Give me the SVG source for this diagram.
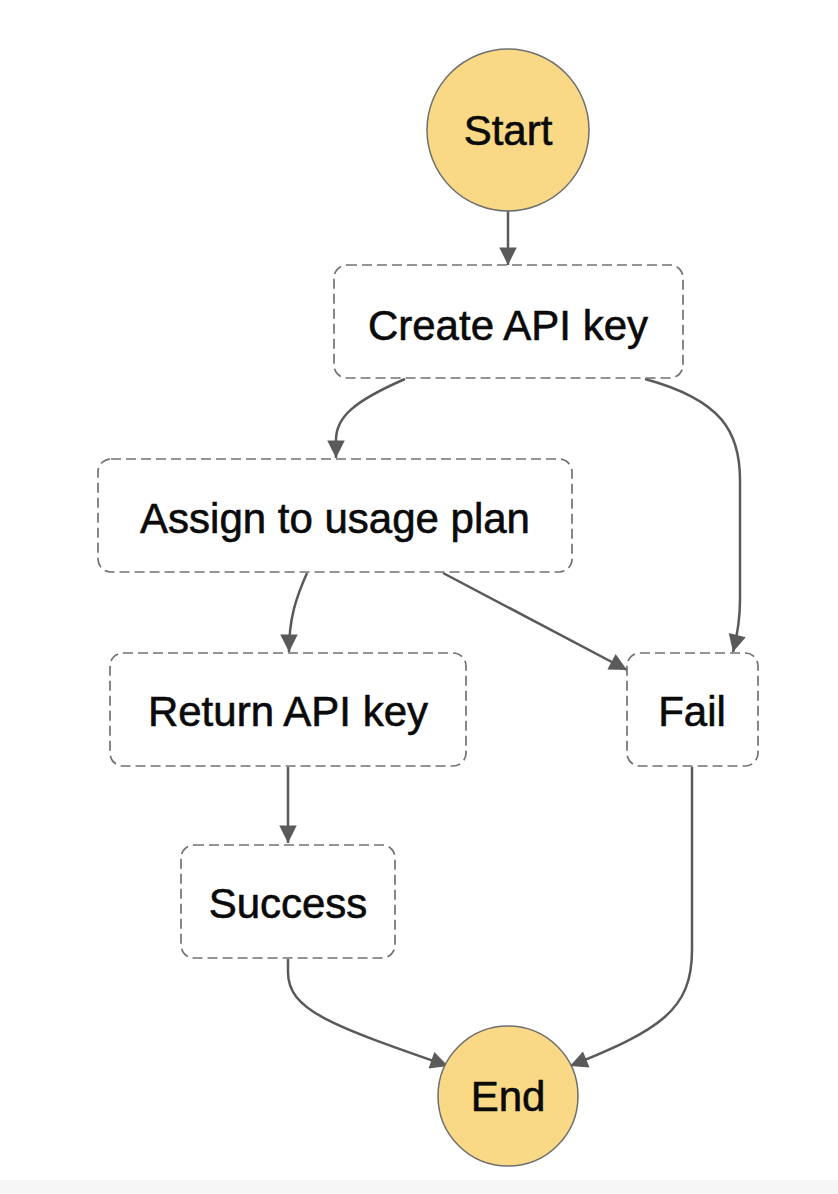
<svg xmlns="http://www.w3.org/2000/svg" width="838" height="1194" viewBox="0 0 838 1194">
<defs>
<style>
.bg{fill:#ffffff}
.band{fill:#f6f6f6}
.term{fill:#f9d985;stroke:#6f6f6f;stroke-width:1.5}
.state{fill:#ffffff;stroke:#727272;stroke-width:1.7;stroke-dasharray:10 5}
.lbl{font-family:"Liberation Sans",Arial,sans-serif;font-size:42px;fill:#0a0a0a;stroke:#0a0a0a;stroke-width:0.6;text-anchor:middle}
.edge{fill:none;stroke:#5a5a5a;stroke-width:2.5}
</style>
<marker id="arr" viewBox="0 0 10 10" refX="10" refY="5" markerWidth="7.5" markerHeight="7" orient="auto" markerUnits="strokeWidth">
<path d="M0,0 L10,5 L0,10 Z" fill="#5a5a5a"/>
</marker>
</defs>
<rect class="bg" x="0" y="0" width="838" height="1194"/>
<rect class="band" x="0" y="1180" width="838" height="14"/>

<g id="connectors">
<path class="edge" d="M508,211 L508,265" marker-end="url(#arr)"/>
<path class="edge" d="M405,379 C352,402 336,418 336,440 L336,458" marker-end="url(#arr)"/>
<path class="edge" d="M645,379 C722,400 740,432 740,480 L740,600 C740,625 736,640 733,652" marker-end="url(#arr)"/>
<path class="edge" d="M307,573 C296,598 289,618 289,652" marker-end="url(#arr)"/>
<path class="edge" d="M443,573 L627,670" marker-end="url(#arr)"/>
<path class="edge" d="M288,767 L288,843" marker-end="url(#arr)"/>
<path class="edge" d="M288,959 L288,972 C288,1010 330,1025 448,1066" marker-end="url(#arr)"/>
<path class="edge" d="M692,767 L692,950 C692,1010 660,1030 570,1066" marker-end="url(#arr)"/>
</g>

<g id="start">
<circle class="term" cx="508" cy="130" r="81"/>
<text class="lbl" x="508" y="145">Start</text>
</g>
<g id="create-api-key">
<rect class="state" x="334" y="265" width="349" height="113" rx="13"/>
<text class="lbl" x="508" y="340">Create API key</text>
</g>
<g id="assign-to-usage-plan">
<rect class="state" x="98" y="459" width="474" height="113" rx="13"/>
<text class="lbl" x="335" y="533">Assign to usage plan</text>
</g>
<g id="return-api-key">
<rect class="state" x="110" y="653" width="356" height="113" rx="13"/>
<text class="lbl" x="288" y="726">Return API key</text>
</g>
<g id="fail">
<rect class="state" x="627" y="653" width="131" height="113" rx="13"/>
<text class="lbl" x="692" y="726">Fail</text>
</g>
<g id="success">
<rect class="state" x="181" y="845" width="214" height="113" rx="13"/>
<text class="lbl" x="288" y="918">Success</text>
</g>
<g id="end">
<circle class="term" cx="508" cy="1096" r="70"/>
<text class="lbl" x="508" y="1111">End</text>
</g>
</svg>
